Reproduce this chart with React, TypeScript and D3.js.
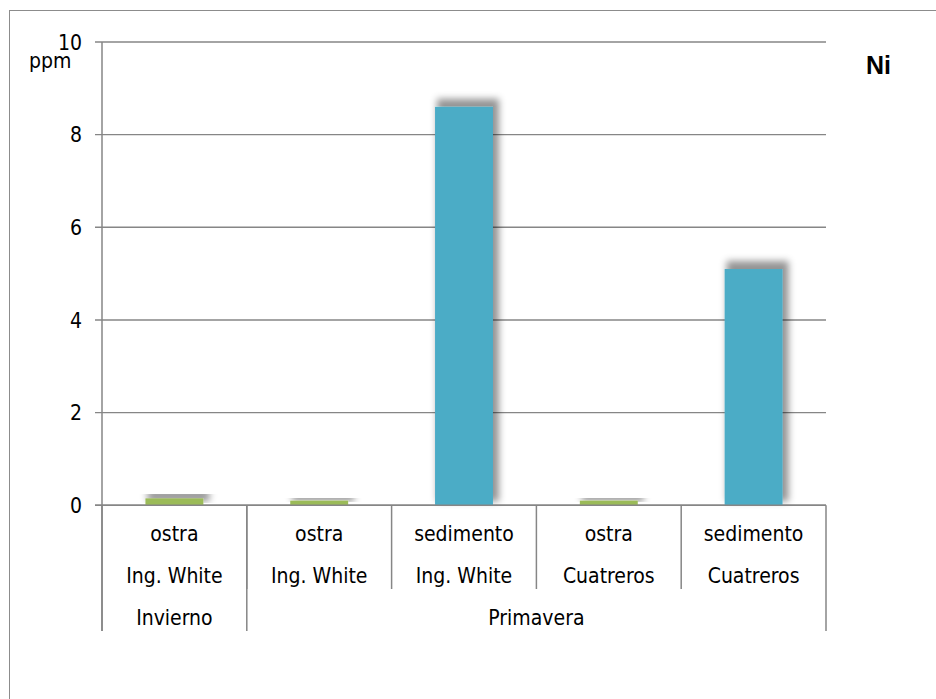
import React from "react";
import * as d3 from "d3";

const categories = ["c1", "c2", "c3", "c4", "c5"];
const sampleLabels = ["ostra", "ostra", "sedimento", "ostra", "sedimento"];
const siteLabels = ["Ing. White", "Ing. White", "Ing. White", "Cuatreros", "Cuatreros"];
const seasons = ["Invierno", "Primavera"];
const seasonSpans = [1, 4];
const values = [0.15, 0.1, 8.6, 0.1, 5.1];
const yTicks = [0, 2, 4, 6, 8, 10];

const W = 936;
const H = 699;
const left = 102;
const right = 826;
const top = 42;
const bottom = 505.3;

const FONT = "'DejaVu Sans Condensed', 'DejaVu Sans', sans-serif";
const FS = 21;
const GRID = "#868686";

export default function App() {
  const x = d3.scaleBand<string>().domain(categories).range([left, right]).paddingInner(0).paddingOuter(0);
  const y = d3.scaleLinear().domain([0, 10]).range([bottom, top]);
  const bw = x.bandwidth() * 0.4;
  const color = (s: string) => (s === "ostra" ? "#9BBB59" : "#4BACC6");

  const row1 = 541;
  const row2 = 583;
  const row3 = 625;
  const lvl2End = 589;
  const lvl1End = 631;

  const seasonBounds: number[] = [left];
  let acc = 0;
  seasonSpans.forEach((s) => {
    acc += s;
    seasonBounds.push(left + acc * x.step());
  });

  return (
    <svg width={W} height={H} style={{ position: "absolute", left: 0, top: 0, background: "#fff" }}>
      <defs>
        <filter id="shadow" x="-50%" y="-50%" width="200%" height="200%">
          <feMorphology in="SourceAlpha" operator="dilate" radius="2" result="dil" />
          <feGaussianBlur in="dil" stdDeviation="3.8" result="blur" />
          <feOffset in="blur" dx="4" dy="-6" result="off" />
          <feFlood floodColor="#000" floodOpacity="0.42" />
          <feComposite in2="off" operator="in" result="sh" />
          <feMerge>
            <feMergeNode in="sh" />
            <feMergeNode in="SourceGraphic" />
          </feMerge>
        </filter>
      </defs>
      <rect x={9.5} y={10.5} width={1000} height={1000} fill="none" stroke="#8c8c8c" strokeWidth={1} />

      {yTicks.map((t) => (
        <g key={t}>
          <line x1={left - 7} x2={right} y1={y(t)} y2={y(t)} stroke={GRID} strokeWidth={1.4} />
          <text x={82} y={y(t)} dy="0.36em" textAnchor="end" fontFamily={FONT} fontSize={FS} fill="#000">
            {t}
          </text>
        </g>
      ))}
      <text x={29} y={68} fontFamily={FONT} fontSize={FS} fill="#000">ppm</text>

      {categories.map((c, i) => {
        const cx = (x(c) as number) + x.bandwidth() / 2;
        return (
          <rect
            key={c}
            x={cx - bw / 2}
            y={y(values[i])}
            width={bw}
            height={bottom - y(values[i])}
            fill={color(sampleLabels[i])}
            filter="url(#shadow)"
          />
        );
      })}

      <line x1={left} x2={left} y1={top} y2={lvl1End} stroke={GRID} strokeWidth={1.5} />
      <line x1={left - 7} x2={right} y1={bottom} y2={bottom} stroke={GRID} strokeWidth={1.5} />
      {categories.map((c, i) =>
        i > 0 ? (
          <line key={"d" + c} x1={x(c) as number} x2={x(c) as number} y1={bottom} y2={lvl2End} stroke={GRID} strokeWidth={1.5} />
        ) : null
      )}
      {seasonBounds.map((b, i) => (
        <line key={"s" + i} x1={b} x2={b} y1={bottom} y2={lvl1End} stroke={GRID} strokeWidth={1.5} />
      ))}

      {categories.map((c, i) => {
        const cx = (x(c) as number) + x.bandwidth() / 2;
        return (
          <g key={"l" + c}>
            <text x={cx} y={row1} textAnchor="middle" fontFamily={FONT} fontSize={FS} fill="#000">
              {sampleLabels[i]}
            </text>
            <text x={cx} y={row2} textAnchor="middle" fontFamily={FONT} fontSize={FS} fill="#000">
              {siteLabels[i]}
            </text>
          </g>
        );
      })}
      {seasons.map((s, i) => (
        <text
          key={s}
          x={(seasonBounds[i] + seasonBounds[i + 1]) / 2}
          y={row3}
          textAnchor="middle"
          fontFamily={FONT}
          fontSize={FS}
          fill="#000"
        >
          {s}
        </text>
      ))}

      <text x={866} y={74} fontFamily="'Liberation Sans', Arial, sans-serif" fontWeight="bold" fontSize={25} fill="#000">
        Ni
      </text>
    </svg>
  );
}
